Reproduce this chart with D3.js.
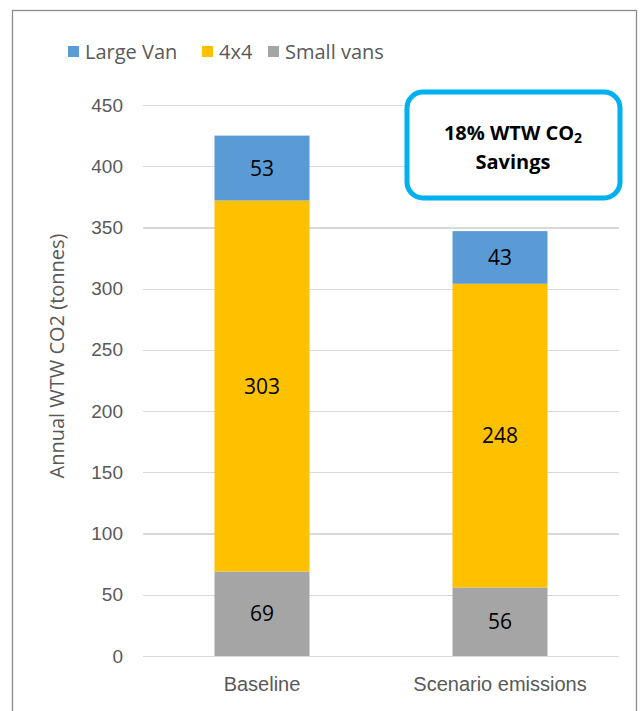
<!DOCTYPE html>
<html>
<head>
<meta charset="utf-8">
<script src="https://d3js.org/d3.v7.min.js"></script>
<style>
body { margin: 0; background: #fff; }
svg { font-family: "Open Sans", "Noto Sans", sans-serif; }
.grid line { stroke: #d9d9d9; stroke-width: 1.3px; shape-rendering: crispEdges; }
.grid path { stroke-width: 0; }
.axis text { fill: #595959; font-size: 19px; }
.axis.x text { font-size: 20px; }
.axis path, .axis line { stroke: none; }
</style>
</head>
<body>
<svg></svg>
<script>

// chart data
var categories = ["Baseline", "Scenario emissions"];
var series = ["Small vans", "4x4", "Large Van"];
var smallVans = [69, 56];
var fourByFour = [303, 248];
var largeVan = [53, 43];
var yTicks = [0, 50, 100, 150, 200, 250, 300, 350, 400, 450];
var legendOrder = ["Large Van", "4x4", "Small vans"];
var colors = { "Large Van": "#5b9bd5", "4x4": "#ffc000", "Small vans": "#a5a5a5" };

var width = 641, height = 711;
var svg = d3.select("svg").attr("width", width).attr("height", height);

// outer chart border
svg.append("rect")
    .attr("x", 12.5).attr("y", 10.5)
    .attr("width", 624).attr("height", 720)
    .attr("fill", "none")
    .attr("stroke", "#8c8c8c")
    .attr("stroke-width", 1.3);

var plot = { left: 143, right: 619, top: 105, bottom: 656 };

var x = d3.scaleBand().domain(categories).range([plot.left, plot.right]).paddingInner(0).paddingOuter(0);
var y = d3.scaleLinear().domain([0, 450]).range([plot.bottom, plot.top]);

// gridlines
svg.append("g")
    .attr("class", "grid")
    .attr("transform", "translate(" + plot.left + ",0)")
    .call(d3.axisLeft(y).tickValues(yTicks).tickSize(-(plot.right - plot.left)).tickFormat(""));

// y axis labels
svg.append("g")
    .attr("class", "axis y")
    .attr("transform", "translate(" + (plot.left - 20) + ",0)")
    .call(d3.axisLeft(y).tickValues(yTicks).tickSize(0).tickPadding(0));

// x axis labels
svg.append("g")
    .attr("class", "axis x")
    .attr("transform", "translate(0," + plot.bottom + ")")
    .call(d3.axisBottom(x).tickSize(0).tickPadding(21));

// stacked bars
var rows = categories.map(function(c, i) {
    return { cat: c, "Small vans": smallVans[i], "4x4": fourByFour[i], "Large Van": largeVan[i] };
});
var stacked = d3.stack().keys(series)(rows);
var barWidth = 95;

var layers = svg.append("g").selectAll("g")
    .data(stacked)
    .enter().append("g")
    .attr("fill", function(d) { return colors[d.key]; });

layers.selectAll("rect")
    .data(function(d) { return d; })
    .enter().append("rect")
    .attr("x", function(d) { return x(d.data.cat) + x.bandwidth() / 2 - barWidth / 2; })
    .attr("width", barWidth)
    .attr("y", function(d) { return y(d[1]); })
    .attr("height", function(d) { return y(d[0]) - y(d[1]); });

// data labels
layers.selectAll("text")
    .data(function(d) { return d; })
    .enter().append("text")
    .attr("x", function(d) { return x(d.data.cat) + x.bandwidth() / 2; })
    .attr("y", function(d) { return (y(d[0]) + y(d[1])) / 2; })
    .attr("dy", "0.36em")
    .attr("text-anchor", "middle")
    .attr("fill", "#000")
    .style("font-size", "21px")
    .text(function(d) { return d[1] - d[0]; });

// y axis title
svg.append("text")
    .attr("transform", "translate(64,356) rotate(-90)")
    .attr("text-anchor", "middle")
    .attr("fill", "#595959")
    .style("font-size", "20px")
    .text("Annual WTW CO2 (tonnes)");

// legend
var legendX = [68, 202, 268];
var legend = svg.append("g").selectAll("g")
    .data(legendOrder)
    .enter().append("g")
    .attr("transform", function(d, i) { return "translate(" + legendX[i] + ",46)"; });
legend.append("rect")
    .attr("width", 11).attr("height", 11)
    .attr("fill", function(d) { return colors[d]; });
legend.append("text")
    .attr("x", 17).attr("y", 5.5)
    .attr("dy", "0.36em")
    .attr("fill", "#595959")
    .style("font-size", "20px")
    .text(function(d) { return d; });

// annotation box
svg.append("rect")
    .attr("x", 407).attr("y", 92)
    .attr("width", 213).attr("height", 106)
    .attr("rx", 16)
    .attr("fill", "#fff")
    .attr("stroke", "#00b0f0")
    .attr("stroke-width", 5);

var note = svg.append("text")
    .attr("x", 513).attr("y", 140)
    .attr("text-anchor", "middle")
    .attr("fill", "#000")
    .style("font-size", "20px")
    .style("font-weight", "bold");
note.append("tspan").text("18% WTW CO");
note.append("tspan").style("font-size", "14px").attr("dy", 3).text("2");
svg.append("text")
    .attr("x", 513).attr("y", 169)
    .attr("text-anchor", "middle")
    .attr("fill", "#000")
    .style("font-size", "20px")
    .style("font-weight", "bold")
    .text("Savings");

</script>
</body>
</html>
